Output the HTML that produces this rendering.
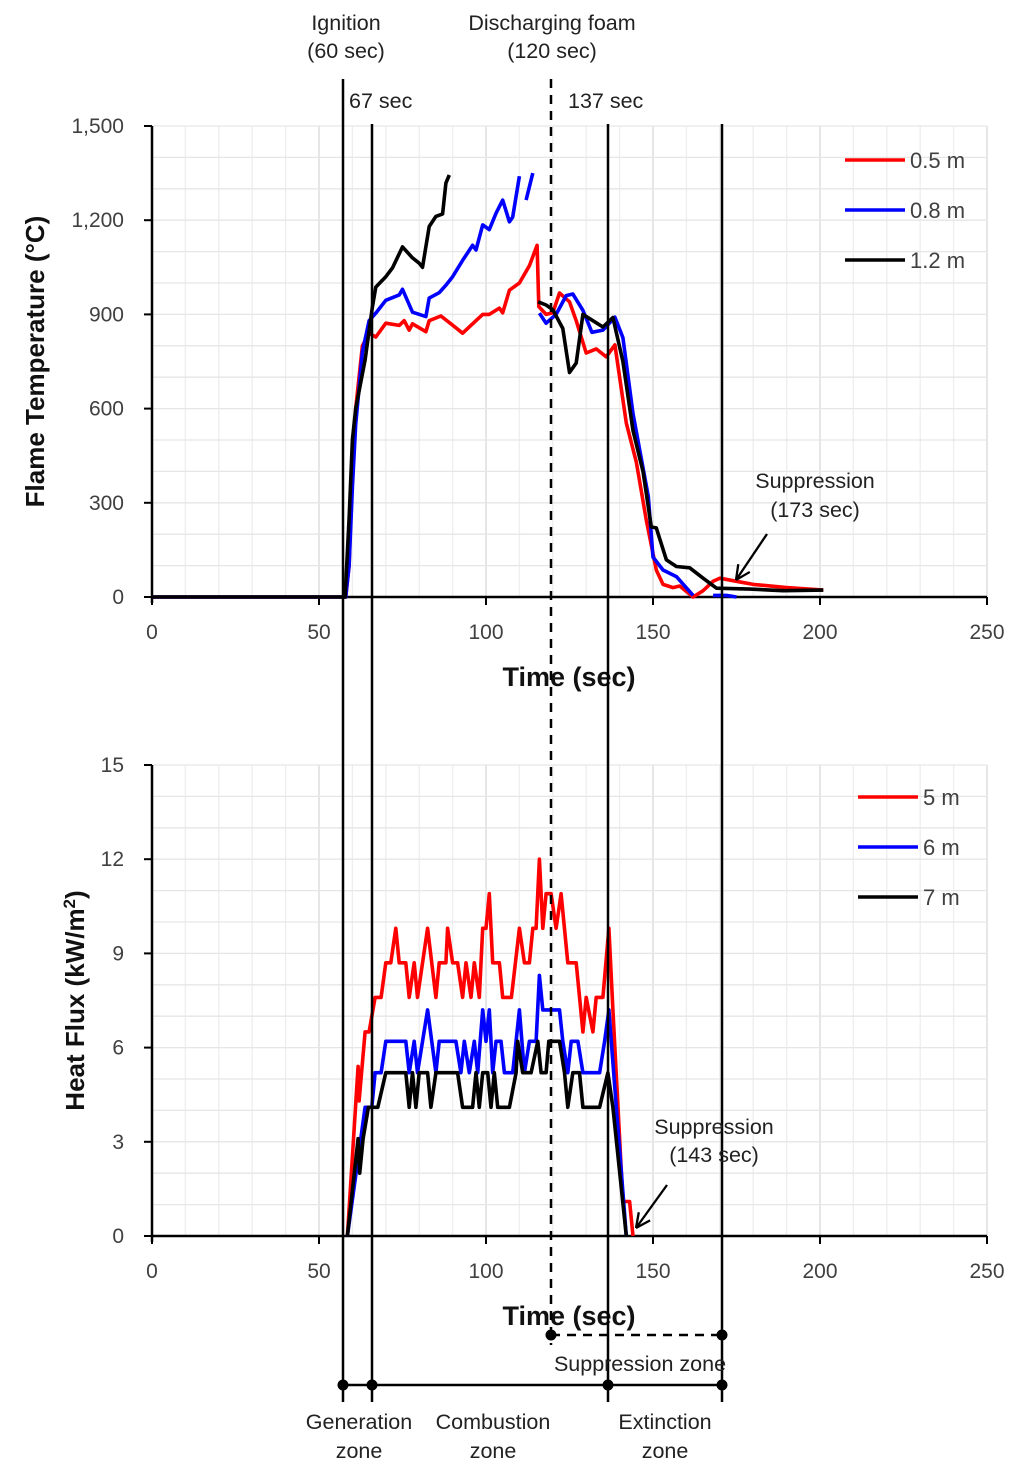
<!DOCTYPE html>
<html><head><meta charset="utf-8"><style>
body{margin:0;background:#fff;}
svg{display:block;font-family:"Liberation Sans",Arial,sans-serif;}
.tick{font-size:21px;fill:#404040;}
.ann{font-size:21.5px;fill:#222;}
.title{font-size:26px;font-weight:bold;fill:#111;}
</style></head><body>
<svg id="c" width="1024" height="1473" viewBox="0 0 1024 1473"></svg>
<script>
const xTicks=[0,50,100,150,200,250];
const tempTicks=[0,300,600,900,1200,1500];
const tempTickLabels=["0","300","600","900","1,200","1,500"];
const fluxTicks=[0,3,6,9,12,15];
const tempNames=["0.5 m","0.8 m","1.2 m"];
const fluxNames=["5 m","6 m","7 m"];
const colors=["#ff0000","#0000ff","#000000"];
// Temperature series: [time, value]
const tRed=[[0,0],[58,0],[59,100],[60,400],[61,600],[63,800],[65,840],[67,828],[70,872],[74,865],[75.5,880],[77,850],[78,870],[82,845],[83,880],[86.5,895],[89.5,870],[93,840],[96,870],[99,900],[101,900],[104,920],[105,905],[107,977],[110,1000],[113,1055],[115.3,1120],[115.8,925],[118,900],[120,905],[122,968],[125,940],[127,880],[130,777],[133,790],[136,765],[138.6,803],[142,554],[145,430],[148,245],[151,86],[153,40],[156,30],[158,35],[162,0],[165,20],[168,50],[170,60],[175,50],[180,40],[190,30],[201,22]];
const tBlue=[[0,0],[58,0],[59,100],[60,350],[61,550],[63,780],[65,880],[67,904],[70,945],[74,962],[75,980],[78,907],[82,893],[83,952],[86,969],[88,993],[90,1020],[93,1072],[96,1120],[97,1105],[99,1185],[101,1170],[103,1222],[105,1264],[107,1195],[108,1210],[110,1340],null,[112,1264],[114,1350],null,[116,904],[118,872],[121,900],[124,960],[126,965],[129,913],[131.7,843],[135,850],[138.6,891],[141,826],[144,584],[148.6,320],[150,127],[153,86],[157,65],[162,5],null,[168,5],[172,5],[175,0]];
const tBlack=[[0,0],[57.8,0],[59,250],[60,500],[61,600],[63.8,755],[66,924],[67,987],[70,1020],[72,1048],[75,1115],[78,1080],[80,1063],[81,1050],[83,1180],[85,1212],[87,1220],[88,1318],[89,1344],null,[115.6,940],[118,930],[120,915],[123,855],[125,715],[127,745],[129,900],[132,880],[135,860],[138,890],[141,750],[144,530],[147,400],[149.5,223],[151,220],[154,118],[157,97],[161,93],[165,60],[169,28],[179,25],[189,20],[201,22]];
// Heat flux series
const fRed=[[58.5,0],[61.7,5.4],[62,4.3],[63.8,6.5],[65,6.5],[66.8,7.6],[68.6,7.6],[70,8.7],[71.5,8.7],[73,9.8],[74,8.7],[76,8.7],[77,7.6],[78.5,8.7],[79.5,7.6],[82.5,9.8],[85,7.6],[86,8.7],[88,8.7],[88.5,9.8],[90,8.7],[91.5,8.7],[93,7.6],[94,8.7],[95.5,7.6],[96.5,8.7],[98,7.6],[99,9.8],[100,9.8],[101,10.9],[102,8.7],[104,8.7],[105,7.6],[107.6,7.6],[110,9.8],[111.5,8.7],[113,8.7],[114,9.8],[115,9.8],[116,12],[117,9.8],[118,10.9],[119.5,10.9],[121,9.8],[122.5,10.9],[124.5,8.7],[127,8.7],[129,6.5],[130,7.6],[132,6.5],[133,7.6],[135,7.6],[136.8,9.8],[138,7.2],[141,1.1],[143,1.1],[144,0]];
const fBlue=[[58.5,0],[63.8,4.1],[65.8,4.1],[66.8,5.2],[68.6,5.2],[70,6.2],[76,6.2],[77,5.2],[78.5,6.2],[79.5,5.2],[82.5,7.2],[85,5.2],[86,6.2],[91,6.2],[92.5,5.2],[93.5,6.2],[95,5.2],[96.5,6.2],[97.5,5.2],[99,7.2],[100,6.2],[101,7.2],[102,5.2],[103,6.2],[104.5,6.2],[105.5,5.2],[108,5.2],[110,7.2],[111.5,5.2],[113,6.2],[115,6.2],[116,8.3],[117,7.2],[122,7.2],[123,6.2],[124.5,5.2],[125.5,6.2],[127.5,6.2],[129,5.2],[134,5.2],[135.5,6.2],[136.8,7.2],[139,4.1],[142,0]];
const fBlack=[[58.5,0],[61.7,3.1],[62.2,2.0],[63.2,3.1],[64.8,4.1],[67.6,4.1],[70,5.2],[76,5.2],[77,4.1],[78,5.2],[79,4.1],[80,5.2],[82.5,5.2],[83.5,4.1],[85,5.2],[91.5,5.2],[93,4.1],[96,4.1],[97,5.2],[98,4.1],[99,5.2],[100.5,5.2],[101.5,4.1],[102.5,5.2],[103.5,4.1],[107,4.1],[109,5.2],[109.5,6.2],[111,5.2],[113.5,5.2],[115.5,6.2],[116.5,5.2],[118,5.2],[118.8,6.2],[122,6.2],[123.5,5.2],[124.5,4.1],[126,5.2],[128,5.2],[129,4.1],[134,4.1],[136.5,5.2],[138,4.1],[142,0]];

const NS="http://www.w3.org/2000/svg";
const svg=document.getElementById('c');
function el(tag,attrs,parent){const e=document.createElementNS(NS,tag);for(const k in attrs)e.setAttribute(k,attrs[k]);(parent||svg).appendChild(e);return e;}
const X0=152,X1=987;
const xs=t=>X0+(t/250)*(X1-X0);
function makeY(y0,y1,max){return v=>y0-(v/max)*(y0-y1);}
const yT=makeY(597,126,1500), yF=makeY(1236,765,15);

function panel(name,ys,max,minorStep,ticks,labels,title,yTitle,series,seriesData,names,legX,legY){
  const g=el('g',{});
  
  
  const grid=el('g',{},g);
  
  
  for(let t=10;t<=250;t+=10){el('line',{x1:xs(t),x2:xs(t),y1:ys(0),y2:ys(max),stroke:t%50==0?'#d9d9d9':'#eeeeee','stroke-width':1.3},grid);}
  for(let v=minorStep;v<=max+1e-9;v+=minorStep){el('line',{x1:X0,x2:X1,y1:ys(v),y2:ys(v),stroke:'#e6e6e6','stroke-width':1.3},grid);}
  el('line',{x1:X0,x2:X0,y1:ys(0)+6,y2:ys(max),stroke:'#000','stroke-width':2.5},g);
  el('line',{x1:X0,x2:X1,y1:ys(0),y2:ys(0),stroke:'#000','stroke-width':2.5},g);
  ticks.forEach((v,i)=>{
    el('line',{x1:X0-8,x2:X0,y1:ys(v),y2:ys(v),stroke:'#000','stroke-width':2},g);
    const tx=el('text',{x:X0-28,y:ys(v)+7,'text-anchor':'end',class:'tick'},g);tx.textContent=labels[i];
    
    
  });
  xTicks.forEach(t=>{
    el('line',{x1:xs(t),x2:xs(t),y1:ys(0),y2:ys(0)+8,stroke:'#000','stroke-width':2},g);
    const tx=el('text',{x:xs(t),y:ys(0)+42,'text-anchor':'middle',class:'tick'},g);tx.textContent=t;
    
    
  });
  const xt=el('text',{x:569,y:ys(0)+89,'text-anchor':'middle',class:'title',style:'font-size:27px'},g);xt.textContent='Time (sec)';
  
  
  const ymid=(ys(0)+ys(max))/2;
  const yt=el('text',{x:0,y:0,'text-anchor':'middle',class:'title',transform:`translate(${yTitle},${ymid}) rotate(-90)`},g);yt.innerHTML=title;
  
  
  seriesData.forEach((data,i)=>{
    let d='',start=true;
    data.forEach(p=>{if(p===null){start=true;return;}d+=(start?'M':'L')+xs(p[0]).toFixed(1)+','+ys(p[1]).toFixed(1);start=false;});
    const path=el('path',{d:d,fill:'none',stroke:colors[i],'stroke-width':3.6,'stroke-linejoin':'round'},g);
    
    
    const le=el('g',{},g);
    
    
    el('line',{x1:legX,x2:legX+60,y1:legY+i*50,y2:legY+i*50,stroke:colors[i],'stroke-width':3.6},le);
    const lt=el('text',{x:legX+65,y:legY+i*50+8,class:'tick',style:'font-size:22px'},le);lt.textContent=names[i];
  });
}
panel('temperature-chart',yT,1500,100,tempTicks,tempTickLabels,'Flame Temperature (°C)',44,'temp',[tRed,tBlue,tBlack],tempNames,845,160);
panel('heat-flux-chart',yF,15,1,fluxTicks,fluxTicks.map(String),'Heat Flux (kW/m<tspan baseline-shift="super" font-size="17">2</tspan>)',84,'flux',[fRed,fBlue,fBlack],fluxNames,858,797);

function vline(x,y1,y2,dash,name){const l=el('line',{x1:x,x2:x,y1:y1,y2:y2,stroke:'#000','stroke-width':2.5});if(dash)l.setAttribute('stroke-dasharray','9,7');
  
  }
vline(343,79,1402,false,'ignition-line');
vline(372,124,1402,false,'line-67-sec');
vline(551,79,1345,true,'foam-discharge-line');
vline(608,124,1402,false,'line-137-sec');
vline(722,124,1402,false,'line-170-sec');
function txt(x,y,s,name,anchor){const t=el('text',{x:x,y:y,'text-anchor':anchor||'middle',class:'ann'});t.textContent=s;
  
  }
txt(346,30,'Ignition','ignition-label');txt(346,58,'(60 sec)','ignition-time-label');
txt(552,30,'Discharging foam','foam-label');txt(552,58,'(120 sec)','foam-time-label');
txt(349,108,'67 sec','label-67-sec','start');txt(568,108,'137 sec','label-137-sec','start');
txt(815,488,'Suppression','temp-suppression-label');txt(815,517,'(173 sec)','temp-suppression-time');
txt(714,1134,'Suppression','flux-suppression-label');txt(714,1162,'(143 sec)','flux-suppression-time');
function arrow(x1,y1,x2,y2,name){const g=el('g',{});
  
  
  el('line',{x1:x1,y1:y1,x2:x2,y2:y2,stroke:'#000','stroke-width':2.3},g);
  const a=Math.atan2(y2-y1,x2-x1),L=16;
  [0.45,-0.45].forEach(o=>el('line',{x1:x2,y1:y2,x2:x2-L*Math.cos(a+o),y2:y2-L*Math.sin(a+o),stroke:'#000','stroke-width':2.3},g));}
arrow(767,534,736,580,'temp-suppression-arrow');
arrow(667,1185,636,1228,'flux-suppression-arrow');
const zg=el('g',{});


el('line',{x1:551,x2:722,y1:1335,y2:1335,stroke:'#000','stroke-width':2.5,'stroke-dasharray':'9,7'},zg);
el('line',{x1:343,x2:722,y1:1385,y2:1385,stroke:'#000','stroke-width':2.5},zg);
[[551,1335],[722,1335],[343,1385],[372,1385],[608,1385],[722,1385]].forEach(p=>el('circle',{cx:p[0],cy:p[1],r:5.5,fill:'#000'},zg));
txt(640,1371,'Suppression  zone','suppression-zone-label');
txt(359,1429,'Generation','generation-zone-label');txt(359,1458,'zone','generation-zone-label-2');
txt(493,1429,'Combustion','combustion-zone-label');txt(493,1458,'zone','combustion-zone-label-2');
txt(665,1429,'Extinction','extinction-zone-label');txt(665,1458,'zone','extinction-zone-label-2');
</script>
</body></html>
